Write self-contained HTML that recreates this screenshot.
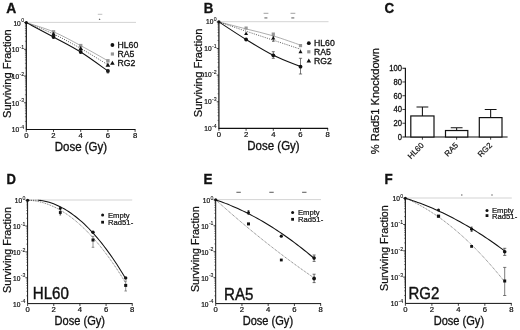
<!DOCTYPE html>
<html><head><meta charset="utf-8"><title>Figure</title>
<style>html,body{margin:0;padding:0;background:#fff;}svg{display:block;}</style></head>
<body>
<svg width="520" height="330" viewBox="0 0 520 330" style="filter:grayscale(1) blur(0.35px)">
<rect width="520" height="330" fill="#fff"/>
<text x="6.20" y="12.60" font-size="14.6" font-family="Liberation Sans, sans-serif" text-anchor="start" font-weight="bold" fill="#111" stroke="#111" stroke-width="0.35" textLength="10.0" lengthAdjust="spacingAndGlyphs">A</text>
<path d="M26.3 22.40H136" stroke="#c8c8c8" stroke-width="0.8" fill="none"/>
<path d="M26.3 22.10V129.5H135.50" stroke="#111" stroke-width="1.2" fill="none"/>
<path d="M24.10 22.60H26.3" stroke="#111" stroke-width="0.8"/>
<text x="20.81" y="25.50" font-size="6.6" font-family="Liberation Sans, sans-serif" text-anchor="end" fill="#111" stroke="#111" stroke-width="0.22">10</text>
<text x="24.10" y="22.30" font-size="5.2" font-family="Liberation Sans, sans-serif" text-anchor="end" fill="#111" stroke="#111" stroke-width="0.1">0</text>
<path d="M24.10 49.33H26.3" stroke="#111" stroke-width="0.8"/>
<text x="19.08" y="52.23" font-size="6.6" font-family="Liberation Sans, sans-serif" text-anchor="end" fill="#111" stroke="#111" stroke-width="0.22">10</text>
<text x="24.10" y="49.03" font-size="5.2" font-family="Liberation Sans, sans-serif" text-anchor="end" fill="#111" stroke="#111" stroke-width="0.1">-1</text>
<path d="M24.10 76.05H26.3" stroke="#111" stroke-width="0.8"/>
<text x="19.08" y="78.95" font-size="6.6" font-family="Liberation Sans, sans-serif" text-anchor="end" fill="#111" stroke="#111" stroke-width="0.22">10</text>
<text x="24.10" y="75.75" font-size="5.2" font-family="Liberation Sans, sans-serif" text-anchor="end" fill="#111" stroke="#111" stroke-width="0.1">-2</text>
<path d="M24.10 102.78H26.3" stroke="#111" stroke-width="0.8"/>
<text x="19.08" y="105.68" font-size="6.6" font-family="Liberation Sans, sans-serif" text-anchor="end" fill="#111" stroke="#111" stroke-width="0.22">10</text>
<text x="24.10" y="102.48" font-size="5.2" font-family="Liberation Sans, sans-serif" text-anchor="end" fill="#111" stroke="#111" stroke-width="0.1">-3</text>
<text x="19.08" y="132.40" font-size="6.6" font-family="Liberation Sans, sans-serif" text-anchor="end" fill="#111" stroke="#111" stroke-width="0.22">10</text>
<text x="24.10" y="129.20" font-size="5.2" font-family="Liberation Sans, sans-serif" text-anchor="end" fill="#111" stroke="#111" stroke-width="0.1">-4</text>
<path d="M24.90 41.28H26.3" stroke="#222" stroke-width="0.5"/>
<path d="M24.90 36.57H26.3" stroke="#222" stroke-width="0.5"/>
<path d="M24.90 33.23H26.3" stroke="#222" stroke-width="0.5"/>
<path d="M24.90 30.65H26.3" stroke="#222" stroke-width="0.5"/>
<path d="M24.90 28.53H26.3" stroke="#222" stroke-width="0.5"/>
<path d="M24.90 26.74H26.3" stroke="#222" stroke-width="0.5"/>
<path d="M24.90 25.19H26.3" stroke="#222" stroke-width="0.5"/>
<path d="M24.90 23.82H26.3" stroke="#222" stroke-width="0.5"/>
<path d="M24.90 68.00H26.3" stroke="#222" stroke-width="0.5"/>
<path d="M24.90 63.30H26.3" stroke="#222" stroke-width="0.5"/>
<path d="M24.90 59.96H26.3" stroke="#222" stroke-width="0.5"/>
<path d="M24.90 57.37H26.3" stroke="#222" stroke-width="0.5"/>
<path d="M24.90 55.25H26.3" stroke="#222" stroke-width="0.5"/>
<path d="M24.90 53.46H26.3" stroke="#222" stroke-width="0.5"/>
<path d="M24.90 51.91H26.3" stroke="#222" stroke-width="0.5"/>
<path d="M24.90 50.55H26.3" stroke="#222" stroke-width="0.5"/>
<path d="M24.90 94.73H26.3" stroke="#222" stroke-width="0.5"/>
<path d="M24.90 90.02H26.3" stroke="#222" stroke-width="0.5"/>
<path d="M24.90 86.68H26.3" stroke="#222" stroke-width="0.5"/>
<path d="M24.90 84.10H26.3" stroke="#222" stroke-width="0.5"/>
<path d="M24.90 81.98H26.3" stroke="#222" stroke-width="0.5"/>
<path d="M24.90 80.19H26.3" stroke="#222" stroke-width="0.5"/>
<path d="M24.90 78.64H26.3" stroke="#222" stroke-width="0.5"/>
<path d="M24.90 77.27H26.3" stroke="#222" stroke-width="0.5"/>
<path d="M24.90 121.45H26.3" stroke="#222" stroke-width="0.5"/>
<path d="M24.90 116.75H26.3" stroke="#222" stroke-width="0.5"/>
<path d="M24.90 113.41H26.3" stroke="#222" stroke-width="0.5"/>
<path d="M24.90 110.82H26.3" stroke="#222" stroke-width="0.5"/>
<path d="M24.90 108.70H26.3" stroke="#222" stroke-width="0.5"/>
<path d="M24.90 106.91H26.3" stroke="#222" stroke-width="0.5"/>
<path d="M24.90 105.36H26.3" stroke="#222" stroke-width="0.5"/>
<path d="M24.90 104.00H26.3" stroke="#222" stroke-width="0.5"/>
<path d="M26.30 129.5V131.90" stroke="#111" stroke-width="0.8"/>
<text x="26.30" y="138.00" font-size="7.7" font-family="Liberation Sans, sans-serif" text-anchor="middle" font-weight="normal" fill="#111" stroke="#111" stroke-width="0.22" >0</text>
<path d="M53.50 129.5V131.90" stroke="#111" stroke-width="0.8"/>
<text x="53.50" y="138.00" font-size="7.7" font-family="Liberation Sans, sans-serif" text-anchor="middle" font-weight="normal" fill="#111" stroke="#111" stroke-width="0.22" >2</text>
<path d="M80.70 129.5V131.90" stroke="#111" stroke-width="0.8"/>
<text x="80.70" y="138.00" font-size="7.7" font-family="Liberation Sans, sans-serif" text-anchor="middle" font-weight="normal" fill="#111" stroke="#111" stroke-width="0.22" >4</text>
<path d="M107.90 129.5V131.90" stroke="#111" stroke-width="0.8"/>
<text x="107.90" y="138.00" font-size="7.7" font-family="Liberation Sans, sans-serif" text-anchor="middle" font-weight="normal" fill="#111" stroke="#111" stroke-width="0.22" >6</text>
<path d="M135.10 129.5V131.90" stroke="#111" stroke-width="0.8"/>
<text x="135.10" y="138.00" font-size="7.7" font-family="Liberation Sans, sans-serif" text-anchor="middle" font-weight="normal" fill="#111" stroke="#111" stroke-width="0.22" >8</text>
<text x="80.90" y="151.10" font-size="12.0" font-family="Liberation Sans, sans-serif" text-anchor="middle" font-weight="normal" fill="#111" stroke="#111" stroke-width="0.33" textLength="52.4" lengthAdjust="spacingAndGlyphs">Dose (Gy)</text>
<text transform="translate(11.40 73.60) rotate(-90)" font-size="11.5" font-family="Liberation Sans, sans-serif" text-anchor="middle" fill="#111" stroke="#111" stroke-width="0.25" textLength="88.7" lengthAdjust="spacingAndGlyphs">Surviving Fraction</text>
<path d="M26.30 22.60C30.83 24.13 44.43 27.97 53.50 31.80C62.57 35.63 71.63 40.77 80.70 45.60C89.77 50.43 103.37 58.27 107.90 60.80" stroke="#999" stroke-width="0.8" fill="none"/>
<path d="M26.30 22.60C30.83 24.50 44.43 29.70 53.50 34.00C62.57 38.30 71.63 43.27 80.70 48.40C89.77 53.53 103.37 62.07 107.90 64.80" stroke="#3a3a3a" stroke-width="0.75" stroke-dasharray="1.1 1.2" fill="none"/>
<path d="M26.30 22.60C30.83 25.00 44.43 32.10 53.50 37.00C62.57 41.90 71.63 46.33 80.70 52.00C89.77 57.67 103.37 67.83 107.90 71.00" stroke="#111" stroke-width="1.05" fill="none"/>
<rect x="51.80" y="30.10" width="3.4" height="3.4" fill="#969696"/>
<rect x="79.00" y="43.90" width="3.4" height="3.4" fill="#969696"/>
<rect x="106.20" y="59.10" width="3.4" height="3.4" fill="#969696"/>
<path d="M53.50 31.70 L55.80 35.84 L51.20 35.84Z" fill="#111"/>
<path d="M80.70 46.10 L83.00 50.24 L78.40 50.24Z" fill="#111"/>
<path d="M107.90 62.50 L110.20 66.64 L105.60 66.64Z" fill="#111"/>
<circle cx="53.50" cy="37.00" r="1.9" fill="#111"/>
<circle cx="80.70" cy="52.00" r="1.9" fill="#111"/>
<circle cx="107.90" cy="71.00" r="1.9" fill="#111"/>
<circle cx="26.30" cy="22.60" r="1.6" fill="#111"/>
<path d="M107.90 69.50V73.00M106.70 69.50H109.10M106.70 73.00H109.10" stroke="#333" stroke-width="0.7" fill="none"/>
<path d="M97.8 14.3H102.3" stroke="#b0b0b0" stroke-width="0.8"/>
<path d="M99.60 18.30 L100.50 19.92 L98.70 19.92Z" fill="#666"/>
<circle cx="112.40" cy="45.00" r="1.9" fill="#111"/>
<text x="117.50" y="48.20" font-size="9.4" font-family="Liberation Sans, sans-serif" text-anchor="start" font-weight="normal" fill="#111" stroke="#111" stroke-width="0.32" textLength="20.8" lengthAdjust="spacingAndGlyphs">HL60</text>
<rect x="110.80" y="52.40" width="3.2" height="3.2" fill="#969696"/>
<text x="117.50" y="57.20" font-size="9.4" font-family="Liberation Sans, sans-serif" text-anchor="start" font-weight="normal" fill="#111" stroke="#111" stroke-width="0.32" textLength="16.9" lengthAdjust="spacingAndGlyphs">RA5</text>
<path d="M112.40 60.70 L114.70 64.84 L110.10 64.84Z" fill="#111"/>
<text x="117.50" y="66.20" font-size="9.4" font-family="Liberation Sans, sans-serif" text-anchor="start" font-weight="normal" fill="#111" stroke="#111" stroke-width="0.32" textLength="17.9" lengthAdjust="spacingAndGlyphs">RG2</text>
<text x="203.80" y="12.60" font-size="14.6" font-family="Liberation Sans, sans-serif" text-anchor="start" font-weight="bold" fill="#111" stroke="#111" stroke-width="0.35" textLength="9.6" lengthAdjust="spacingAndGlyphs">B</text>
<path d="M218.9 21.70H328.5" stroke="#c8c8c8" stroke-width="0.8" fill="none"/>
<path d="M218.9 21.40V128.4H328.10" stroke="#111" stroke-width="1.2" fill="none"/>
<path d="M216.70 21.90H218.9" stroke="#111" stroke-width="0.8"/>
<text x="213.41" y="24.20" font-size="6.6" font-family="Liberation Sans, sans-serif" text-anchor="end" fill="#111" stroke="#111" stroke-width="0.22">10</text>
<text x="216.70" y="21.00" font-size="5.2" font-family="Liberation Sans, sans-serif" text-anchor="end" fill="#111" stroke="#111" stroke-width="0.1">0</text>
<path d="M216.70 48.52H218.9" stroke="#111" stroke-width="0.8"/>
<text x="211.68" y="50.82" font-size="6.6" font-family="Liberation Sans, sans-serif" text-anchor="end" fill="#111" stroke="#111" stroke-width="0.22">10</text>
<text x="216.70" y="47.62" font-size="5.2" font-family="Liberation Sans, sans-serif" text-anchor="end" fill="#111" stroke="#111" stroke-width="0.1">-1</text>
<path d="M216.70 75.15H218.9" stroke="#111" stroke-width="0.8"/>
<text x="211.68" y="77.45" font-size="6.6" font-family="Liberation Sans, sans-serif" text-anchor="end" fill="#111" stroke="#111" stroke-width="0.22">10</text>
<text x="216.70" y="74.25" font-size="5.2" font-family="Liberation Sans, sans-serif" text-anchor="end" fill="#111" stroke="#111" stroke-width="0.1">-2</text>
<path d="M216.70 101.78H218.9" stroke="#111" stroke-width="0.8"/>
<text x="211.68" y="104.08" font-size="6.6" font-family="Liberation Sans, sans-serif" text-anchor="end" fill="#111" stroke="#111" stroke-width="0.22">10</text>
<text x="216.70" y="100.88" font-size="5.2" font-family="Liberation Sans, sans-serif" text-anchor="end" fill="#111" stroke="#111" stroke-width="0.1">-3</text>
<text x="211.68" y="130.70" font-size="6.6" font-family="Liberation Sans, sans-serif" text-anchor="end" fill="#111" stroke="#111" stroke-width="0.22">10</text>
<text x="216.70" y="127.50" font-size="5.2" font-family="Liberation Sans, sans-serif" text-anchor="end" fill="#111" stroke="#111" stroke-width="0.1">-4</text>
<path d="M217.50 40.51H218.9" stroke="#222" stroke-width="0.5"/>
<path d="M217.50 35.82H218.9" stroke="#222" stroke-width="0.5"/>
<path d="M217.50 32.50H218.9" stroke="#222" stroke-width="0.5"/>
<path d="M217.50 29.91H218.9" stroke="#222" stroke-width="0.5"/>
<path d="M217.50 27.81H218.9" stroke="#222" stroke-width="0.5"/>
<path d="M217.50 26.02H218.9" stroke="#222" stroke-width="0.5"/>
<path d="M217.50 24.48H218.9" stroke="#222" stroke-width="0.5"/>
<path d="M217.50 23.12H218.9" stroke="#222" stroke-width="0.5"/>
<path d="M217.50 67.14H218.9" stroke="#222" stroke-width="0.5"/>
<path d="M217.50 62.45H218.9" stroke="#222" stroke-width="0.5"/>
<path d="M217.50 59.12H218.9" stroke="#222" stroke-width="0.5"/>
<path d="M217.50 56.54H218.9" stroke="#222" stroke-width="0.5"/>
<path d="M217.50 54.43H218.9" stroke="#222" stroke-width="0.5"/>
<path d="M217.50 52.65H218.9" stroke="#222" stroke-width="0.5"/>
<path d="M217.50 51.11H218.9" stroke="#222" stroke-width="0.5"/>
<path d="M217.50 49.74H218.9" stroke="#222" stroke-width="0.5"/>
<path d="M217.50 93.76H218.9" stroke="#222" stroke-width="0.5"/>
<path d="M217.50 89.07H218.9" stroke="#222" stroke-width="0.5"/>
<path d="M217.50 85.75H218.9" stroke="#222" stroke-width="0.5"/>
<path d="M217.50 83.16H218.9" stroke="#222" stroke-width="0.5"/>
<path d="M217.50 81.06H218.9" stroke="#222" stroke-width="0.5"/>
<path d="M217.50 79.27H218.9" stroke="#222" stroke-width="0.5"/>
<path d="M217.50 77.73H218.9" stroke="#222" stroke-width="0.5"/>
<path d="M217.50 76.37H218.9" stroke="#222" stroke-width="0.5"/>
<path d="M217.50 120.39H218.9" stroke="#222" stroke-width="0.5"/>
<path d="M217.50 115.70H218.9" stroke="#222" stroke-width="0.5"/>
<path d="M217.50 112.37H218.9" stroke="#222" stroke-width="0.5"/>
<path d="M217.50 109.79H218.9" stroke="#222" stroke-width="0.5"/>
<path d="M217.50 107.68H218.9" stroke="#222" stroke-width="0.5"/>
<path d="M217.50 105.90H218.9" stroke="#222" stroke-width="0.5"/>
<path d="M217.50 104.36H218.9" stroke="#222" stroke-width="0.5"/>
<path d="M217.50 102.99H218.9" stroke="#222" stroke-width="0.5"/>
<path d="M218.90 128.4V130.80" stroke="#111" stroke-width="0.8"/>
<text x="218.90" y="136.90" font-size="7.7" font-family="Liberation Sans, sans-serif" text-anchor="middle" font-weight="normal" fill="#111" stroke="#111" stroke-width="0.22" >0</text>
<path d="M246.10 128.4V130.80" stroke="#111" stroke-width="0.8"/>
<text x="246.10" y="136.90" font-size="7.7" font-family="Liberation Sans, sans-serif" text-anchor="middle" font-weight="normal" fill="#111" stroke="#111" stroke-width="0.22" >2</text>
<path d="M273.30 128.4V130.80" stroke="#111" stroke-width="0.8"/>
<text x="273.30" y="136.90" font-size="7.7" font-family="Liberation Sans, sans-serif" text-anchor="middle" font-weight="normal" fill="#111" stroke="#111" stroke-width="0.22" >4</text>
<path d="M300.50 128.4V130.80" stroke="#111" stroke-width="0.8"/>
<text x="300.50" y="136.90" font-size="7.7" font-family="Liberation Sans, sans-serif" text-anchor="middle" font-weight="normal" fill="#111" stroke="#111" stroke-width="0.22" >6</text>
<path d="M327.70 128.4V130.80" stroke="#111" stroke-width="0.8"/>
<text x="327.70" y="136.90" font-size="7.7" font-family="Liberation Sans, sans-serif" text-anchor="middle" font-weight="normal" fill="#111" stroke="#111" stroke-width="0.22" >8</text>
<text x="273.50" y="150.00" font-size="12.0" font-family="Liberation Sans, sans-serif" text-anchor="middle" font-weight="normal" fill="#111" stroke="#111" stroke-width="0.33" textLength="52.4" lengthAdjust="spacingAndGlyphs">Dose (Gy)</text>
<text transform="translate(202.20 72.90) rotate(-90)" font-size="11.5" font-family="Liberation Sans, sans-serif" text-anchor="middle" fill="#111" stroke="#111" stroke-width="0.25" textLength="88.7" lengthAdjust="spacingAndGlyphs">Surviving Fraction</text>
<path d="M218.90 21.90C223.43 23.07 237.03 26.57 246.10 28.90C255.17 31.23 264.23 33.20 273.30 35.90C282.37 38.60 295.97 43.57 300.50 45.10" stroke="#999" stroke-width="0.8" fill="none"/>
<path d="M218.90 21.90C223.43 23.45 237.03 28.15 246.10 31.20C255.17 34.25 264.23 37.20 273.30 40.20C282.37 43.20 295.97 47.70 300.50 49.20" stroke="#3a3a3a" stroke-width="0.75" stroke-dasharray="1.1 1.2" fill="none"/>
<path d="M218.90 21.90C223.43 24.83 237.03 33.93 246.10 39.50C255.17 45.07 264.23 50.77 273.30 55.30C282.37 59.83 295.97 64.80 300.50 66.70" stroke="#111" stroke-width="1.05" fill="none"/>
<path d="M273.30 35.80V41.30M272.00 35.80H274.60M272.00 41.30H274.60" stroke="#333" stroke-width="0.7" fill="none"/>
<path d="M273.30 51.70V58.30M271.80 51.70H274.80M271.80 58.30H274.80" stroke="#333" stroke-width="0.7" fill="none"/>
<path d="M300.50 58.30V74.00M298.90 58.30H302.10M298.90 74.00H302.10" stroke="#444" stroke-width="0.7" fill="none"/>
<rect x="244.50" y="26.50" width="3.2" height="3.2" fill="#969696"/>
<rect x="271.70" y="32.50" width="3.2" height="3.2" fill="#969696"/>
<rect x="298.90" y="44.00" width="3.2" height="3.2" fill="#969696"/>
<path d="M246.10 31.50 L248.10 35.10 L244.10 35.10Z" fill="#111"/>
<path d="M273.30 35.90 L275.30 39.50 L271.30 39.50Z" fill="#111"/>
<path d="M300.50 49.60 L302.50 53.20 L298.50 53.20Z" fill="#111"/>
<circle cx="246.10" cy="39.50" r="1.9" fill="#111"/>
<circle cx="273.30" cy="55.30" r="1.9" fill="#111"/>
<circle cx="300.50" cy="66.70" r="1.9" fill="#111"/>
<circle cx="218.90" cy="21.90" r="1.6" fill="#111"/>
<path d="M263.6 13.3H268.4" stroke="#8a8a8a" stroke-width="0.8"/>
<rect x="264.4" y="17.2" width="3" height="1.4" fill="#8a8a8a"/>
<path d="M290.5 13.3H295.29999999999995" stroke="#8a8a8a" stroke-width="0.8"/>
<rect x="291.29999999999995" y="17.2" width="3" height="1.4" fill="#8a8a8a"/>
<circle cx="308.80" cy="43.20" r="1.9" fill="#111"/>
<text x="314.00" y="46.40" font-size="9.4" font-family="Liberation Sans, sans-serif" text-anchor="start" font-weight="normal" fill="#111" stroke="#111" stroke-width="0.32" textLength="20.8" lengthAdjust="spacingAndGlyphs">HL60</text>
<rect x="307.20" y="50.20" width="3.2" height="3.2" fill="#969696"/>
<text x="314.00" y="55.20" font-size="9.4" font-family="Liberation Sans, sans-serif" text-anchor="start" font-weight="normal" fill="#111" stroke="#111" stroke-width="0.32" textLength="16.9" lengthAdjust="spacingAndGlyphs">RA5</text>
<path d="M308.80 58.40 L311.10 62.54 L306.50 62.54Z" fill="#111"/>
<text x="314.00" y="64.00" font-size="9.4" font-family="Liberation Sans, sans-serif" text-anchor="start" font-weight="normal" fill="#111" stroke="#111" stroke-width="0.32" textLength="17.9" lengthAdjust="spacingAndGlyphs">RG2</text>
<text x="384.50" y="12.60" font-size="14.6" font-family="Liberation Sans, sans-serif" text-anchor="start" font-weight="bold" fill="#111" stroke="#111" stroke-width="0.35" textLength="9.6" lengthAdjust="spacingAndGlyphs">C</text>
<path d="M402.4 68.2H405.4V137.0" stroke="#111" stroke-width="1.15" fill="none"/>
<path d="M402.4 137.0H507.6" stroke="#111" stroke-width="1.2" fill="none"/>
<text x="402.00" y="71.20" font-size="8.2" font-family="Liberation Sans, sans-serif" text-anchor="end" font-weight="normal" fill="#111" stroke="#111" stroke-width="0.3" textLength="12.75" lengthAdjust="spacingAndGlyphs">100</text>
<path d="M402.4 81.96H405.4" stroke="#111" stroke-width="0.8"/>
<text x="402.00" y="84.96" font-size="8.2" font-family="Liberation Sans, sans-serif" text-anchor="end" font-weight="normal" fill="#111" stroke="#111" stroke-width="0.3" textLength="8.50" lengthAdjust="spacingAndGlyphs">80</text>
<path d="M402.4 95.72H405.4" stroke="#111" stroke-width="0.8"/>
<text x="402.00" y="98.72" font-size="8.2" font-family="Liberation Sans, sans-serif" text-anchor="end" font-weight="normal" fill="#111" stroke="#111" stroke-width="0.3" textLength="8.50" lengthAdjust="spacingAndGlyphs">60</text>
<path d="M402.4 109.48H405.4" stroke="#111" stroke-width="0.8"/>
<text x="402.00" y="112.48" font-size="8.2" font-family="Liberation Sans, sans-serif" text-anchor="end" font-weight="normal" fill="#111" stroke="#111" stroke-width="0.3" textLength="8.50" lengthAdjust="spacingAndGlyphs">40</text>
<path d="M402.4 123.24H405.4" stroke="#111" stroke-width="0.8"/>
<text x="402.00" y="126.24" font-size="8.2" font-family="Liberation Sans, sans-serif" text-anchor="end" font-weight="normal" fill="#111" stroke="#111" stroke-width="0.3" textLength="8.50" lengthAdjust="spacingAndGlyphs">20</text>
<text x="402.00" y="140.00" font-size="8.2" font-family="Liberation Sans, sans-serif" text-anchor="end" font-weight="normal" fill="#111" stroke="#111" stroke-width="0.3" textLength="4.25" lengthAdjust="spacingAndGlyphs">0</text>
<rect x="410.8" y="115.95" width="23.20" height="21.05" fill="#fff" stroke="#111" stroke-width="1.2"/>
<path d="M422.40 115.95V107.07M416.50 107.07H428.30" stroke="#111" stroke-width="1.05" fill="none"/>
<path d="M422.40 137.0V139.7" stroke="#111" stroke-width="0.8"/>
<text transform="translate(424.40 145.90) rotate(-45)" font-size="8.0" font-family="Liberation Sans, sans-serif" text-anchor="end" fill="#111" stroke="#111" stroke-width="0.2">HL60</text>
<rect x="445.5" y="130.53" width="22.30" height="6.47" fill="#fff" stroke="#111" stroke-width="1.2"/>
<path d="M456.65 130.53V127.78M450.75 127.78H462.55" stroke="#111" stroke-width="1.05" fill="none"/>
<path d="M456.65 137.0V139.7" stroke="#111" stroke-width="0.8"/>
<text transform="translate(458.65 145.90) rotate(-45)" font-size="8.0" font-family="Liberation Sans, sans-serif" text-anchor="end" fill="#111" stroke="#111" stroke-width="0.2">RA5</text>
<rect x="479.3" y="117.60" width="22.70" height="19.40" fill="#fff" stroke="#111" stroke-width="1.2"/>
<path d="M490.65 117.60V109.48M484.75 109.48H496.55" stroke="#111" stroke-width="1.05" fill="none"/>
<path d="M490.65 137.0V139.7" stroke="#111" stroke-width="0.8"/>
<text transform="translate(492.65 145.90) rotate(-45)" font-size="8.0" font-family="Liberation Sans, sans-serif" text-anchor="end" fill="#111" stroke="#111" stroke-width="0.2">RG2</text>
<text transform="translate(378.60 101.20) rotate(-90)" font-size="11.1" font-family="Liberation Sans, sans-serif" text-anchor="middle" fill="#111" stroke="#111" stroke-width="0.25" textLength="106" lengthAdjust="spacingAndGlyphs">% Rad51 Knockdown</text>
<text x="6.60" y="183.80" font-size="14.6" font-family="Liberation Sans, sans-serif" text-anchor="start" font-weight="bold" fill="#111" stroke="#111" stroke-width="0.35" textLength="9.4" lengthAdjust="spacingAndGlyphs">D</text>
<path d="M27.6 200.00H132.2" stroke="#c8c8c8" stroke-width="0.8" fill="none"/>
<path d="M27.6 199.70V303.6H132.64" stroke="#111" stroke-width="1.0" fill="none"/>
<path d="M25.40 200.20H27.6" stroke="#111" stroke-width="0.8"/>
<text x="22.11" y="203.10" font-size="6.6" font-family="Liberation Sans, sans-serif" text-anchor="end" fill="#111" stroke="#111" stroke-width="0.22">10</text>
<text x="25.40" y="199.90" font-size="5.2" font-family="Liberation Sans, sans-serif" text-anchor="end" fill="#111" stroke="#111" stroke-width="0.1">0</text>
<path d="M25.40 226.05H27.6" stroke="#111" stroke-width="0.8"/>
<text x="20.38" y="228.95" font-size="6.6" font-family="Liberation Sans, sans-serif" text-anchor="end" fill="#111" stroke="#111" stroke-width="0.22">10</text>
<text x="25.40" y="225.75" font-size="5.2" font-family="Liberation Sans, sans-serif" text-anchor="end" fill="#111" stroke="#111" stroke-width="0.1">-1</text>
<path d="M25.40 251.90H27.6" stroke="#111" stroke-width="0.8"/>
<text x="20.38" y="254.80" font-size="6.6" font-family="Liberation Sans, sans-serif" text-anchor="end" fill="#111" stroke="#111" stroke-width="0.22">10</text>
<text x="25.40" y="251.60" font-size="5.2" font-family="Liberation Sans, sans-serif" text-anchor="end" fill="#111" stroke="#111" stroke-width="0.1">-2</text>
<path d="M25.40 277.75H27.6" stroke="#111" stroke-width="0.8"/>
<text x="20.38" y="280.65" font-size="6.6" font-family="Liberation Sans, sans-serif" text-anchor="end" fill="#111" stroke="#111" stroke-width="0.22">10</text>
<text x="25.40" y="277.45" font-size="5.2" font-family="Liberation Sans, sans-serif" text-anchor="end" fill="#111" stroke="#111" stroke-width="0.1">-3</text>
<text x="20.38" y="306.50" font-size="6.6" font-family="Liberation Sans, sans-serif" text-anchor="end" fill="#111" stroke="#111" stroke-width="0.22">10</text>
<text x="25.40" y="303.30" font-size="5.2" font-family="Liberation Sans, sans-serif" text-anchor="end" fill="#111" stroke="#111" stroke-width="0.1">-4</text>
<path d="M26.20 218.27H27.6" stroke="#222" stroke-width="0.5"/>
<path d="M26.20 213.72H27.6" stroke="#222" stroke-width="0.5"/>
<path d="M26.20 210.49H27.6" stroke="#222" stroke-width="0.5"/>
<path d="M26.20 207.98H27.6" stroke="#222" stroke-width="0.5"/>
<path d="M26.20 205.93H27.6" stroke="#222" stroke-width="0.5"/>
<path d="M26.20 204.20H27.6" stroke="#222" stroke-width="0.5"/>
<path d="M26.20 202.71H27.6" stroke="#222" stroke-width="0.5"/>
<path d="M26.20 201.38H27.6" stroke="#222" stroke-width="0.5"/>
<path d="M26.20 244.12H27.6" stroke="#222" stroke-width="0.5"/>
<path d="M26.20 239.57H27.6" stroke="#222" stroke-width="0.5"/>
<path d="M26.20 236.34H27.6" stroke="#222" stroke-width="0.5"/>
<path d="M26.20 233.83H27.6" stroke="#222" stroke-width="0.5"/>
<path d="M26.20 231.78H27.6" stroke="#222" stroke-width="0.5"/>
<path d="M26.20 230.05H27.6" stroke="#222" stroke-width="0.5"/>
<path d="M26.20 228.56H27.6" stroke="#222" stroke-width="0.5"/>
<path d="M26.20 227.23H27.6" stroke="#222" stroke-width="0.5"/>
<path d="M26.20 269.97H27.6" stroke="#222" stroke-width="0.5"/>
<path d="M26.20 265.42H27.6" stroke="#222" stroke-width="0.5"/>
<path d="M26.20 262.19H27.6" stroke="#222" stroke-width="0.5"/>
<path d="M26.20 259.68H27.6" stroke="#222" stroke-width="0.5"/>
<path d="M26.20 257.63H27.6" stroke="#222" stroke-width="0.5"/>
<path d="M26.20 255.90H27.6" stroke="#222" stroke-width="0.5"/>
<path d="M26.20 254.41H27.6" stroke="#222" stroke-width="0.5"/>
<path d="M26.20 253.08H27.6" stroke="#222" stroke-width="0.5"/>
<path d="M26.20 295.82H27.6" stroke="#222" stroke-width="0.5"/>
<path d="M26.20 291.27H27.6" stroke="#222" stroke-width="0.5"/>
<path d="M26.20 288.04H27.6" stroke="#222" stroke-width="0.5"/>
<path d="M26.20 285.53H27.6" stroke="#222" stroke-width="0.5"/>
<path d="M26.20 283.48H27.6" stroke="#222" stroke-width="0.5"/>
<path d="M26.20 281.75H27.6" stroke="#222" stroke-width="0.5"/>
<path d="M26.20 280.26H27.6" stroke="#222" stroke-width="0.5"/>
<path d="M26.20 278.93H27.6" stroke="#222" stroke-width="0.5"/>
<path d="M27.60 303.6V306.00" stroke="#111" stroke-width="0.8"/>
<text x="27.60" y="312.10" font-size="7.7" font-family="Liberation Sans, sans-serif" text-anchor="middle" font-weight="normal" fill="#111" stroke="#111" stroke-width="0.22" >0</text>
<path d="M53.76 303.6V306.00" stroke="#111" stroke-width="0.8"/>
<text x="53.76" y="312.10" font-size="7.7" font-family="Liberation Sans, sans-serif" text-anchor="middle" font-weight="normal" fill="#111" stroke="#111" stroke-width="0.22" >2</text>
<path d="M79.92 303.6V306.00" stroke="#111" stroke-width="0.8"/>
<text x="79.92" y="312.10" font-size="7.7" font-family="Liberation Sans, sans-serif" text-anchor="middle" font-weight="normal" fill="#111" stroke="#111" stroke-width="0.22" >4</text>
<path d="M106.08 303.6V306.00" stroke="#111" stroke-width="0.8"/>
<text x="106.08" y="312.10" font-size="7.7" font-family="Liberation Sans, sans-serif" text-anchor="middle" font-weight="normal" fill="#111" stroke="#111" stroke-width="0.22" >6</text>
<path d="M132.24 303.6V306.00" stroke="#111" stroke-width="0.8"/>
<text x="132.24" y="312.10" font-size="7.7" font-family="Liberation Sans, sans-serif" text-anchor="middle" font-weight="normal" fill="#111" stroke="#111" stroke-width="0.22" >8</text>
<text x="79.80" y="325.20" font-size="12.0" font-family="Liberation Sans, sans-serif" text-anchor="middle" font-weight="normal" fill="#111" stroke="#111" stroke-width="0.33" textLength="50.4" lengthAdjust="spacingAndGlyphs">Dose (Gy)</text>
<text transform="translate(10.60 250.00) rotate(-90)" font-size="11.5" font-family="Liberation Sans, sans-serif" text-anchor="middle" fill="#111" stroke="#111" stroke-width="0.25" textLength="85.8" lengthAdjust="spacingAndGlyphs">Surviving Fraction</text>
<path d="M27.60 200.20L30.05 200.33L32.51 200.56L34.96 200.89L37.41 201.32L39.86 201.85L42.31 202.48L44.77 203.21L47.22 204.04L49.67 204.97L52.12 206.00L54.58 207.12L57.03 208.35L59.48 209.67L61.94 211.10L64.39 212.62L66.84 214.24L69.29 215.97L71.75 217.79L74.20 219.71L76.65 221.73L79.10 223.85L81.56 226.07L84.01 228.39L86.46 230.81L88.91 233.33L91.37 235.95L93.82 238.66L96.27 241.48L98.72 244.40L101.18 247.41L103.63 250.53L106.08 253.74L108.53 257.05L110.99 260.47L113.44 263.98L115.89 267.59L118.34 271.30L120.80 275.11L123.25 279.02L125.70 283.03" stroke="#333" stroke-width="0.7" stroke-dasharray="0.9 0.9" fill="none"/>
<path d="M27.6 200.2H41.99" stroke="#333" stroke-width="0.7" stroke-dasharray="0.9 0.9" fill="none"/>
<path d="M38.28 200.20L40.47 200.46L42.65 200.80L44.84 201.23L47.03 201.75L49.21 202.36L51.40 203.06L53.58 203.84L55.77 204.71L57.95 205.67L60.14 206.71L62.32 207.84L64.51 209.06L66.69 210.37L68.88 211.76L71.07 213.25L73.25 214.82L75.44 216.47L77.62 218.22L79.81 220.05L81.99 221.97L84.18 223.97L86.36 226.07L88.55 228.25L90.73 230.52L92.92 232.88L95.10 235.32L97.29 237.85L99.48 240.47L101.66 243.18L103.85 245.97L106.03 248.85L108.22 251.82L110.40 254.88L112.59 258.02L114.77 261.25L116.96 264.57L119.14 267.98L121.33 271.47L123.51 275.05L125.70 278.72" stroke="#111" stroke-width="1.05" fill="none"/>
<path d="M93.00 236.40V247.30M91.70 236.40H94.30M91.70 247.30H94.30" stroke="#666" stroke-width="0.7" fill="none"/>
<path d="M125.70 281.00V291.00M124.40 281.00H127.00M124.40 291.00H127.00" stroke="#666" stroke-width="0.7" fill="none"/>
<path d="M60.30 207.00V215.00M59.50 207.00H61.10M59.50 215.00H61.10" stroke="#333" stroke-width="0.7" fill="none"/>
<circle cx="60.30" cy="208.50" r="1.45" fill="#111"/>
<rect x="58.90" y="211.10" width="2.8" height="2.8" fill="#111"/>
<circle cx="93.00" cy="232.30" r="1.7" fill="#111"/>
<rect x="91.50" y="238.50" width="3" height="3" fill="#111"/>
<circle cx="125.70" cy="278.00" r="1.7" fill="#111"/>
<rect x="124.20" y="283.90" width="3" height="3" fill="#111"/>
<circle cx="27.60" cy="200.20" r="1.5" fill="#111"/>
<circle cx="102.60" cy="214.90" r="1.5" fill="#111"/>
<text x="108.00" y="217.80" font-size="8.0" font-family="Liberation Sans, sans-serif" text-anchor="start" font-weight="normal" fill="#111" stroke="#111" stroke-width="0.22" textLength="21.7" lengthAdjust="spacingAndGlyphs">Empty</text>
<rect x="101.20" y="220.80" width="2.8" height="2.8" fill="#111"/>
<text x="108.00" y="225.20" font-size="8.0" font-family="Liberation Sans, sans-serif" text-anchor="start" font-weight="normal" fill="#111" stroke="#111" stroke-width="0.22" textLength="25.2" lengthAdjust="spacingAndGlyphs">Rad51-</text>
<text x="32.80" y="299.30" font-size="15.9" font-family="Liberation Sans, sans-serif" text-anchor="start" font-weight="normal" fill="#111" stroke="#111" stroke-width="0.4" textLength="36.1" lengthAdjust="spacingAndGlyphs">HL60</text>
<text x="203.60" y="183.80" font-size="14.6" font-family="Liberation Sans, sans-serif" text-anchor="start" font-weight="bold" fill="#111" stroke="#111" stroke-width="0.35" textLength="9.0" lengthAdjust="spacingAndGlyphs">E</text>
<path d="M215.7 199.60H321" stroke="#c8c8c8" stroke-width="0.8" fill="none"/>
<path d="M215.7 199.30V303.6H321.06" stroke="#111" stroke-width="1.0" fill="none"/>
<path d="M213.50 199.80H215.7" stroke="#111" stroke-width="0.8"/>
<text x="210.21" y="202.70" font-size="6.6" font-family="Liberation Sans, sans-serif" text-anchor="end" fill="#111" stroke="#111" stroke-width="0.22">10</text>
<text x="213.50" y="199.50" font-size="5.2" font-family="Liberation Sans, sans-serif" text-anchor="end" fill="#111" stroke="#111" stroke-width="0.1">0</text>
<path d="M213.50 225.75H215.7" stroke="#111" stroke-width="0.8"/>
<text x="208.48" y="228.65" font-size="6.6" font-family="Liberation Sans, sans-serif" text-anchor="end" fill="#111" stroke="#111" stroke-width="0.22">10</text>
<text x="213.50" y="225.45" font-size="5.2" font-family="Liberation Sans, sans-serif" text-anchor="end" fill="#111" stroke="#111" stroke-width="0.1">-1</text>
<path d="M213.50 251.70H215.7" stroke="#111" stroke-width="0.8"/>
<text x="208.48" y="254.60" font-size="6.6" font-family="Liberation Sans, sans-serif" text-anchor="end" fill="#111" stroke="#111" stroke-width="0.22">10</text>
<text x="213.50" y="251.40" font-size="5.2" font-family="Liberation Sans, sans-serif" text-anchor="end" fill="#111" stroke="#111" stroke-width="0.1">-2</text>
<path d="M213.50 277.65H215.7" stroke="#111" stroke-width="0.8"/>
<text x="208.48" y="280.55" font-size="6.6" font-family="Liberation Sans, sans-serif" text-anchor="end" fill="#111" stroke="#111" stroke-width="0.22">10</text>
<text x="213.50" y="277.35" font-size="5.2" font-family="Liberation Sans, sans-serif" text-anchor="end" fill="#111" stroke="#111" stroke-width="0.1">-3</text>
<text x="208.48" y="306.50" font-size="6.6" font-family="Liberation Sans, sans-serif" text-anchor="end" fill="#111" stroke="#111" stroke-width="0.22">10</text>
<text x="213.50" y="303.30" font-size="5.2" font-family="Liberation Sans, sans-serif" text-anchor="end" fill="#111" stroke="#111" stroke-width="0.1">-4</text>
<path d="M214.30 217.94H215.7" stroke="#222" stroke-width="0.5"/>
<path d="M214.30 213.37H215.7" stroke="#222" stroke-width="0.5"/>
<path d="M214.30 210.13H215.7" stroke="#222" stroke-width="0.5"/>
<path d="M214.30 207.61H215.7" stroke="#222" stroke-width="0.5"/>
<path d="M214.30 205.56H215.7" stroke="#222" stroke-width="0.5"/>
<path d="M214.30 203.82H215.7" stroke="#222" stroke-width="0.5"/>
<path d="M214.30 202.31H215.7" stroke="#222" stroke-width="0.5"/>
<path d="M214.30 200.99H215.7" stroke="#222" stroke-width="0.5"/>
<path d="M214.30 243.89H215.7" stroke="#222" stroke-width="0.5"/>
<path d="M214.30 239.32H215.7" stroke="#222" stroke-width="0.5"/>
<path d="M214.30 236.08H215.7" stroke="#222" stroke-width="0.5"/>
<path d="M214.30 233.56H215.7" stroke="#222" stroke-width="0.5"/>
<path d="M214.30 231.51H215.7" stroke="#222" stroke-width="0.5"/>
<path d="M214.30 229.77H215.7" stroke="#222" stroke-width="0.5"/>
<path d="M214.30 228.26H215.7" stroke="#222" stroke-width="0.5"/>
<path d="M214.30 226.94H215.7" stroke="#222" stroke-width="0.5"/>
<path d="M214.30 269.84H215.7" stroke="#222" stroke-width="0.5"/>
<path d="M214.30 265.27H215.7" stroke="#222" stroke-width="0.5"/>
<path d="M214.30 262.03H215.7" stroke="#222" stroke-width="0.5"/>
<path d="M214.30 259.51H215.7" stroke="#222" stroke-width="0.5"/>
<path d="M214.30 257.46H215.7" stroke="#222" stroke-width="0.5"/>
<path d="M214.30 255.72H215.7" stroke="#222" stroke-width="0.5"/>
<path d="M214.30 254.21H215.7" stroke="#222" stroke-width="0.5"/>
<path d="M214.30 252.89H215.7" stroke="#222" stroke-width="0.5"/>
<path d="M214.30 295.79H215.7" stroke="#222" stroke-width="0.5"/>
<path d="M214.30 291.22H215.7" stroke="#222" stroke-width="0.5"/>
<path d="M214.30 287.98H215.7" stroke="#222" stroke-width="0.5"/>
<path d="M214.30 285.46H215.7" stroke="#222" stroke-width="0.5"/>
<path d="M214.30 283.41H215.7" stroke="#222" stroke-width="0.5"/>
<path d="M214.30 281.67H215.7" stroke="#222" stroke-width="0.5"/>
<path d="M214.30 280.16H215.7" stroke="#222" stroke-width="0.5"/>
<path d="M214.30 278.84H215.7" stroke="#222" stroke-width="0.5"/>
<path d="M215.70 303.6V306.00" stroke="#111" stroke-width="0.8"/>
<text x="215.70" y="312.10" font-size="7.7" font-family="Liberation Sans, sans-serif" text-anchor="middle" font-weight="normal" fill="#111" stroke="#111" stroke-width="0.22" >0</text>
<path d="M241.94 303.6V306.00" stroke="#111" stroke-width="0.8"/>
<text x="241.94" y="312.10" font-size="7.7" font-family="Liberation Sans, sans-serif" text-anchor="middle" font-weight="normal" fill="#111" stroke="#111" stroke-width="0.22" >2</text>
<path d="M268.18 303.6V306.00" stroke="#111" stroke-width="0.8"/>
<text x="268.18" y="312.10" font-size="7.7" font-family="Liberation Sans, sans-serif" text-anchor="middle" font-weight="normal" fill="#111" stroke="#111" stroke-width="0.22" >4</text>
<path d="M294.42 303.6V306.00" stroke="#111" stroke-width="0.8"/>
<text x="294.42" y="312.10" font-size="7.7" font-family="Liberation Sans, sans-serif" text-anchor="middle" font-weight="normal" fill="#111" stroke="#111" stroke-width="0.22" >6</text>
<path d="M320.66 303.6V306.00" stroke="#111" stroke-width="0.8"/>
<text x="320.66" y="312.10" font-size="7.7" font-family="Liberation Sans, sans-serif" text-anchor="middle" font-weight="normal" fill="#111" stroke="#111" stroke-width="0.22" >8</text>
<text x="267.90" y="325.20" font-size="12.0" font-family="Liberation Sans, sans-serif" text-anchor="middle" font-weight="normal" fill="#111" stroke="#111" stroke-width="0.33" textLength="50.4" lengthAdjust="spacingAndGlyphs">Dose (Gy)</text>
<text transform="translate(198.60 249.20) rotate(-90)" font-size="11.5" font-family="Liberation Sans, sans-serif" text-anchor="middle" fill="#111" stroke="#111" stroke-width="0.25" textLength="85.8" lengthAdjust="spacingAndGlyphs">Surviving Fraction</text>
<path d="M215.70 199.80L218.16 202.02L220.62 204.22L223.08 206.41L225.54 208.59L228.00 210.75L230.46 212.90L232.92 215.03L235.38 217.16L237.84 219.27L240.30 221.36L242.76 223.44L245.22 225.51L247.68 227.57L250.14 229.61L252.60 231.63L255.06 233.65L257.52 235.65L259.98 237.64L262.44 239.61L264.90 241.57L267.36 243.52L269.82 245.45L272.28 247.37L274.74 249.28L277.20 251.17L279.66 253.05L282.12 254.92L284.58 256.77L287.04 258.61L289.50 260.43L291.96 262.24L294.42 264.04L296.88 265.83L299.34 267.60L301.80 269.36L304.26 271.10L306.72 272.83L309.18 274.55L311.64 276.25L314.10 277.94" stroke="#333" stroke-width="0.7" stroke-dasharray="0.9 0.9" fill="none"/>
<path d="M215.70 199.80L218.16 200.65L220.62 201.53L223.08 202.44L225.54 203.38L228.00 204.36L230.46 205.37L232.92 206.40L235.38 207.47L237.84 208.57L240.30 209.71L242.76 210.87L245.22 212.07L247.68 213.29L250.14 214.55L252.60 215.84L255.06 217.16L257.52 218.52L259.98 219.90L262.44 221.32L264.90 222.77L267.36 224.25L269.82 225.76L272.28 227.30L274.74 228.87L277.20 230.48L279.66 232.11L282.12 233.78L284.58 235.48L287.04 237.21L289.50 238.98L291.96 240.77L294.42 242.60L296.88 244.46L299.34 246.35L301.80 248.27L304.26 250.22L306.72 252.20L309.18 254.22L311.64 256.26L314.10 258.34" stroke="#111" stroke-width="1.05" fill="none"/>
<path d="M248.50 210.50V214.50M247.50 210.50H249.50M247.50 214.50H249.50" stroke="#333" stroke-width="0.7" fill="none"/>
<path d="M314.10 255.00V261.40M312.60 255.00H315.60M312.60 261.40H315.60" stroke="#333" stroke-width="0.7" fill="none"/>
<path d="M314.10 274.20V282.60M312.60 274.20H315.60M312.60 282.60H315.60" stroke="#333" stroke-width="0.7" fill="none"/>
<circle cx="248.50" cy="212.50" r="1.5" fill="#111"/>
<rect x="247.00" y="222.40" width="3" height="3" fill="#111"/>
<circle cx="281.30" cy="236.20" r="1.6" fill="#111"/>
<rect x="279.90" y="258.60" width="2.8" height="2.8" fill="#111"/>
<circle cx="314.10" cy="258.10" r="1.8" fill="#111"/>
<circle cx="314.10" cy="278.50" r="1.9" fill="#111"/>
<circle cx="215.70" cy="199.80" r="1.5" fill="#111"/>
<path d="M236.4 192.3H240.79999999999998" stroke="#666" stroke-width="1.1"/>
<path d="M269.3 192.3H273.7" stroke="#666" stroke-width="1.1"/>
<path d="M302.1 192.3H306.5" stroke="#666" stroke-width="1.1"/>
<circle cx="292.60" cy="212.50" r="1.5" fill="#111"/>
<text x="298.00" y="215.40" font-size="8.0" font-family="Liberation Sans, sans-serif" text-anchor="start" font-weight="normal" fill="#111" stroke="#111" stroke-width="0.22" textLength="21.7" lengthAdjust="spacingAndGlyphs">Empty</text>
<rect x="291.20" y="217.90" width="2.8" height="2.8" fill="#111"/>
<text x="298.00" y="222.20" font-size="8.0" font-family="Liberation Sans, sans-serif" text-anchor="start" font-weight="normal" fill="#111" stroke="#111" stroke-width="0.22" textLength="25.2" lengthAdjust="spacingAndGlyphs">Rad51-</text>
<text x="224.00" y="300.10" font-size="15.9" font-family="Liberation Sans, sans-serif" text-anchor="start" font-weight="normal" fill="#111" stroke="#111" stroke-width="0.4" textLength="29.4" lengthAdjust="spacingAndGlyphs">RA5</text>
<text x="384.40" y="183.80" font-size="14.6" font-family="Liberation Sans, sans-serif" text-anchor="start" font-weight="bold" fill="#111" stroke="#111" stroke-width="0.35" textLength="8.2" lengthAdjust="spacingAndGlyphs">F</text>
<path d="M405.4 198.00H511.8" stroke="#c8c8c8" stroke-width="0.8" fill="none"/>
<path d="M405.4 197.70V303.4H511.72" stroke="#111" stroke-width="1.0" fill="none"/>
<path d="M403.20 198.20H405.4" stroke="#111" stroke-width="0.8"/>
<text x="399.91" y="201.10" font-size="6.6" font-family="Liberation Sans, sans-serif" text-anchor="end" fill="#111" stroke="#111" stroke-width="0.22">10</text>
<text x="403.20" y="197.90" font-size="5.2" font-family="Liberation Sans, sans-serif" text-anchor="end" fill="#111" stroke="#111" stroke-width="0.1">0</text>
<path d="M403.20 224.50H405.4" stroke="#111" stroke-width="0.8"/>
<text x="398.18" y="227.40" font-size="6.6" font-family="Liberation Sans, sans-serif" text-anchor="end" fill="#111" stroke="#111" stroke-width="0.22">10</text>
<text x="403.20" y="224.20" font-size="5.2" font-family="Liberation Sans, sans-serif" text-anchor="end" fill="#111" stroke="#111" stroke-width="0.1">-1</text>
<path d="M403.20 250.80H405.4" stroke="#111" stroke-width="0.8"/>
<text x="398.18" y="253.70" font-size="6.6" font-family="Liberation Sans, sans-serif" text-anchor="end" fill="#111" stroke="#111" stroke-width="0.22">10</text>
<text x="403.20" y="250.50" font-size="5.2" font-family="Liberation Sans, sans-serif" text-anchor="end" fill="#111" stroke="#111" stroke-width="0.1">-2</text>
<path d="M403.20 277.10H405.4" stroke="#111" stroke-width="0.8"/>
<text x="398.18" y="280.00" font-size="6.6" font-family="Liberation Sans, sans-serif" text-anchor="end" fill="#111" stroke="#111" stroke-width="0.22">10</text>
<text x="403.20" y="276.80" font-size="5.2" font-family="Liberation Sans, sans-serif" text-anchor="end" fill="#111" stroke="#111" stroke-width="0.1">-3</text>
<text x="398.18" y="306.30" font-size="6.6" font-family="Liberation Sans, sans-serif" text-anchor="end" fill="#111" stroke="#111" stroke-width="0.22">10</text>
<text x="403.20" y="303.10" font-size="5.2" font-family="Liberation Sans, sans-serif" text-anchor="end" fill="#111" stroke="#111" stroke-width="0.1">-4</text>
<path d="M404.00 216.58H405.4" stroke="#222" stroke-width="0.5"/>
<path d="M404.00 211.95H405.4" stroke="#222" stroke-width="0.5"/>
<path d="M404.00 208.67H405.4" stroke="#222" stroke-width="0.5"/>
<path d="M404.00 206.12H405.4" stroke="#222" stroke-width="0.5"/>
<path d="M404.00 204.03H405.4" stroke="#222" stroke-width="0.5"/>
<path d="M404.00 202.27H405.4" stroke="#222" stroke-width="0.5"/>
<path d="M404.00 200.75H405.4" stroke="#222" stroke-width="0.5"/>
<path d="M404.00 199.40H405.4" stroke="#222" stroke-width="0.5"/>
<path d="M404.00 242.88H405.4" stroke="#222" stroke-width="0.5"/>
<path d="M404.00 238.25H405.4" stroke="#222" stroke-width="0.5"/>
<path d="M404.00 234.97H405.4" stroke="#222" stroke-width="0.5"/>
<path d="M404.00 232.42H405.4" stroke="#222" stroke-width="0.5"/>
<path d="M404.00 230.33H405.4" stroke="#222" stroke-width="0.5"/>
<path d="M404.00 228.57H405.4" stroke="#222" stroke-width="0.5"/>
<path d="M404.00 227.05H405.4" stroke="#222" stroke-width="0.5"/>
<path d="M404.00 225.70H405.4" stroke="#222" stroke-width="0.5"/>
<path d="M404.00 269.18H405.4" stroke="#222" stroke-width="0.5"/>
<path d="M404.00 264.55H405.4" stroke="#222" stroke-width="0.5"/>
<path d="M404.00 261.27H405.4" stroke="#222" stroke-width="0.5"/>
<path d="M404.00 258.72H405.4" stroke="#222" stroke-width="0.5"/>
<path d="M404.00 256.63H405.4" stroke="#222" stroke-width="0.5"/>
<path d="M404.00 254.87H405.4" stroke="#222" stroke-width="0.5"/>
<path d="M404.00 253.35H405.4" stroke="#222" stroke-width="0.5"/>
<path d="M404.00 252.00H405.4" stroke="#222" stroke-width="0.5"/>
<path d="M404.00 295.48H405.4" stroke="#222" stroke-width="0.5"/>
<path d="M404.00 290.85H405.4" stroke="#222" stroke-width="0.5"/>
<path d="M404.00 287.57H405.4" stroke="#222" stroke-width="0.5"/>
<path d="M404.00 285.02H405.4" stroke="#222" stroke-width="0.5"/>
<path d="M404.00 282.93H405.4" stroke="#222" stroke-width="0.5"/>
<path d="M404.00 281.17H405.4" stroke="#222" stroke-width="0.5"/>
<path d="M404.00 279.65H405.4" stroke="#222" stroke-width="0.5"/>
<path d="M404.00 278.30H405.4" stroke="#222" stroke-width="0.5"/>
<path d="M405.40 303.4V305.80" stroke="#111" stroke-width="0.8"/>
<text x="405.40" y="311.90" font-size="7.7" font-family="Liberation Sans, sans-serif" text-anchor="middle" font-weight="normal" fill="#111" stroke="#111" stroke-width="0.22" >0</text>
<path d="M431.88 303.4V305.80" stroke="#111" stroke-width="0.8"/>
<text x="431.88" y="311.90" font-size="7.7" font-family="Liberation Sans, sans-serif" text-anchor="middle" font-weight="normal" fill="#111" stroke="#111" stroke-width="0.22" >2</text>
<path d="M458.36 303.4V305.80" stroke="#111" stroke-width="0.8"/>
<text x="458.36" y="311.90" font-size="7.7" font-family="Liberation Sans, sans-serif" text-anchor="middle" font-weight="normal" fill="#111" stroke="#111" stroke-width="0.22" >4</text>
<path d="M484.84 303.4V305.80" stroke="#111" stroke-width="0.8"/>
<text x="484.84" y="311.90" font-size="7.7" font-family="Liberation Sans, sans-serif" text-anchor="middle" font-weight="normal" fill="#111" stroke="#111" stroke-width="0.22" >6</text>
<path d="M511.32 303.4V305.80" stroke="#111" stroke-width="0.8"/>
<text x="511.32" y="311.90" font-size="7.7" font-family="Liberation Sans, sans-serif" text-anchor="middle" font-weight="normal" fill="#111" stroke="#111" stroke-width="0.22" >8</text>
<text x="458.90" y="325.00" font-size="12.0" font-family="Liberation Sans, sans-serif" text-anchor="middle" font-weight="normal" fill="#111" stroke="#111" stroke-width="0.33" textLength="50.4" lengthAdjust="spacingAndGlyphs">Dose (Gy)</text>
<text transform="translate(388.30 248.10) rotate(-90)" font-size="11.5" font-family="Liberation Sans, sans-serif" text-anchor="middle" fill="#111" stroke="#111" stroke-width="0.25" textLength="85.8" lengthAdjust="spacingAndGlyphs">Surviving Fraction</text>
<path d="M405.40 198.20L407.88 199.29L410.36 200.43L412.85 201.62L415.33 202.86L417.81 204.16L420.29 205.50L422.78 206.90L425.26 208.35L427.74 209.85L430.22 211.40L432.71 213.00L435.19 214.65L437.67 216.36L440.15 218.12L442.64 219.92L445.12 221.78L447.60 223.69L450.08 225.66L452.57 227.67L455.05 229.74L457.53 231.85L460.01 234.02L462.50 236.24L464.98 238.51L467.46 240.83L469.94 243.21L472.43 245.63L474.91 248.11L477.39 250.64L479.88 253.21L482.36 255.84L484.84 258.53L487.32 261.26L489.80 264.05L492.29 266.88L494.77 269.77L497.25 272.71L499.74 275.70L502.22 278.74L504.70 281.83" stroke="#333" stroke-width="0.7" stroke-dasharray="0.9 0.9" fill="none"/>
<path d="M405.40 198.20L407.88 198.98L410.36 199.80L412.85 200.64L415.33 201.50L417.81 202.40L420.29 203.32L422.78 204.27L425.26 205.25L427.74 206.25L430.22 207.28L432.71 208.34L435.19 209.43L437.67 210.54L440.15 211.69L442.64 212.85L445.12 214.05L447.60 215.28L450.08 216.53L452.57 217.81L455.05 219.11L457.53 220.45L460.01 221.81L462.50 223.20L464.98 224.62L467.46 226.06L469.94 227.53L472.43 229.03L474.91 230.56L477.39 232.11L479.88 233.70L482.36 235.31L484.84 236.94L487.32 238.61L489.80 240.30L492.29 242.02L494.77 243.77L497.25 245.54L499.74 247.34L502.22 249.17L504.70 251.03" stroke="#111" stroke-width="1.05" fill="none"/>
<path d="M504.70 248.30V255.40M503.10 248.30H506.30M503.10 255.40H506.30" stroke="#333" stroke-width="0.7" fill="none"/>
<path d="M504.70 267.40V295.50M503.10 267.40H506.30M503.10 295.50H506.30" stroke="#444" stroke-width="0.7" fill="none"/>
<path d="M471.60 227.00V231.50M470.60 227.00H472.60M470.60 231.50H472.60" stroke="#333" stroke-width="0.7" fill="none"/>
<circle cx="438.50" cy="210.00" r="1.5" fill="#111"/>
<rect x="436.90" y="214.60" width="3.2" height="3.2" fill="#111"/>
<circle cx="471.60" cy="229.20" r="1.6" fill="#111"/>
<rect x="470.20" y="245.00" width="2.8" height="2.8" fill="#111"/>
<circle cx="504.70" cy="251.80" r="1.8" fill="#111"/>
<rect x="503.20" y="279.50" width="3" height="3" fill="#111"/>
<circle cx="405.40" cy="198.20" r="1.5" fill="#111"/>
<circle cx="461.80" cy="195.10" r="0.75" fill="#666"/>
<circle cx="492.00" cy="195.10" r="0.75" fill="#666"/>
<circle cx="487.00" cy="210.50" r="1.5" fill="#111"/>
<text x="492.00" y="213.40" font-size="8.0" font-family="Liberation Sans, sans-serif" text-anchor="start" font-weight="normal" fill="#111" stroke="#111" stroke-width="0.22" textLength="21.7" lengthAdjust="spacingAndGlyphs">Empty</text>
<rect x="485.60" y="214.20" width="2.8" height="2.8" fill="#111"/>
<text x="492.00" y="218.60" font-size="8.0" font-family="Liberation Sans, sans-serif" text-anchor="start" font-weight="normal" fill="#111" stroke="#111" stroke-width="0.22" textLength="25.2" lengthAdjust="spacingAndGlyphs">Rad51-</text>
<text x="408.50" y="299.30" font-size="15.9" font-family="Liberation Sans, sans-serif" text-anchor="start" font-weight="normal" fill="#111" stroke="#111" stroke-width="0.4" textLength="30.8" lengthAdjust="spacingAndGlyphs">RG2</text>
</svg>
</body></html>
